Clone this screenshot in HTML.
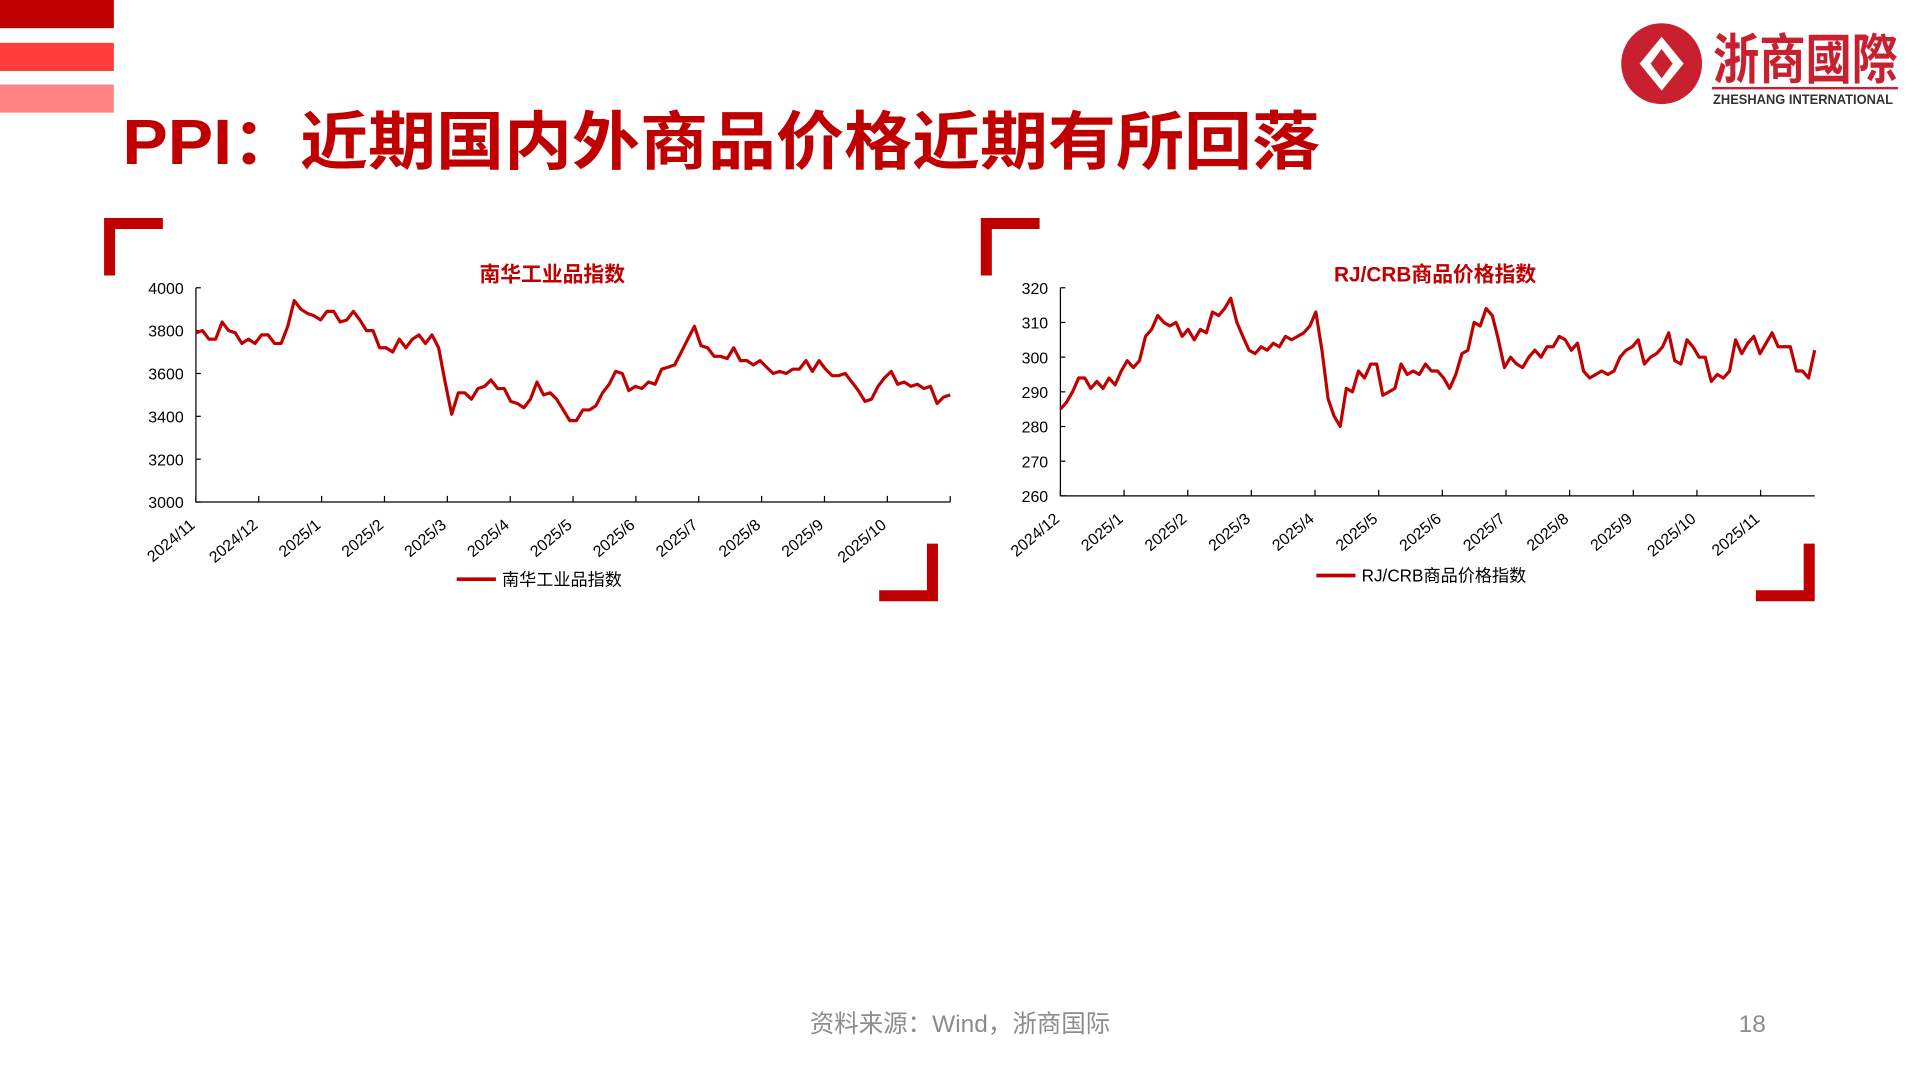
<!DOCTYPE html>
<html><head><meta charset="utf-8"><style>
html,body{margin:0;padding:0;background:#fff;width:1920px;height:1080px;overflow:hidden}
svg{display:block}
text{font-family:"Liberation Sans","Noto Sans CJK SC",sans-serif}
</style></head><body>
<svg id="slide" width="1920" height="1080" viewBox="0 0 1568 882" xmlns="http://www.w3.org/2000/svg">
<rect x="0" y="0" width="93" height="23" fill="#c00000"/>
<rect x="0" y="35" width="93" height="23" fill="#ff3c3c"/>
<rect x="0" y="69" width="93" height="23" fill="#ff8585"/>
<text x="100" y="134" font-size="52" font-weight="bold" fill="#c00000" textLength="978" lengthAdjust="spacingAndGlyphs">PPI：近期国内外商品价格近期有所回落</text>
<g>
<circle cx="1357" cy="52" r="33" fill="#c8202f"/>
<path d="M1357 30 L1375 52 L1357 74 L1339 52 Z" fill="#fff"/>
<path d="M1357 40 L1366 52 L1357 64 L1348 52 Z" fill="#c8202f"/>
<text x="1399" y="64" font-size="44" font-weight="bold" fill="#c8202f" font-family="Noto Serif CJK SC,serif" textLength="151" lengthAdjust="spacingAndGlyphs">浙商國際</text>
<rect x="1398" y="71" width="152" height="2" fill="#c8202f"/>
<text x="1399" y="85" font-size="11" fill="#333" font-family="Liberation Serif,serif" font-weight="bold" textLength="147" lengthAdjust="spacingAndGlyphs">ZHESHANG INTERNATIONAL</text>
</g>
<g fill="#c00000">
<path d="M85 178 H133 V187 H94 V225 H85 Z"/>
<path d="M766 491 H718 V482 H757 V444 H766 Z"/>
<path d="M801 178 H849 V187 H810 V225 H801 Z"/>
<path d="M1482 491 H1434 V482 H1473 V444 H1482 Z"/>
</g>
<g id="chart1"></g>
<g id="chart2"></g>
<text x="784" y="843" font-size="20" text-anchor="middle" fill="#8c8c8c">资料来源：Wind，浙商国际</text>
<text x="1431" y="843" font-size="20" text-anchor="middle" fill="#8c8c8c">18</text>
</svg>
<script>
const nhLabels=["2024/11","2024/12","2025/1","2025/2","2025/3","2025/4","2025/5","2025/6","2025/7","2025/8","2025/9","2025/10"];
const nhTicks=[3000,3200,3400,3600,3800,4000];
const nhValues=[3790,3800,3760,3760,3840,3800,3790,3740,3760,3740,3780,3780,3740,3740,3820,3940,3900,3880,3870,3850,3890,3890,3840,3850,3890,3850,3800,3800,3720,3720,3700,3760,3720,3760,3780,3740,3780,3720,3560,3410,3510,3510,3480,3530,3540,3570,3530,3530,3470,3460,3440,3480,3560,3500,3510,3480,3430,3380,3380,3430,3430,3450,3510,3550,3610,3600,3520,3540,3530,3560,3550,3620,3630,3640,3700,3760,3820,3730,3720,3680,3680,3670,3720,3660,3660,3640,3660,3630,3600,3610,3600,3620,3620,3660,3610,3660,3620,3590,3590,3600,3560,3520,3470,3480,3540,3580,3610,3550,3560,3540,3550,3530,3540,3460,3490,3500];
const rjLabels=["2024/12","2025/1","2025/2","2025/3","2025/4","2025/5","2025/6","2025/7","2025/8","2025/9","2025/10","2025/11"];
const rjTicks=[260,270,280,290,300,310,320];
const rjValues=[285,287,290,294,294,291,293,291,294,292,296,299,297,299,306,308,312,310,309,310,306,308,305,308,307,313,312,314,317,310,306,302,301,303,302,304,303,306,305,306,307,309,313,302,288,283,280,291,290,296,294,298,298,289,290,291,298,295,296,295,298,296,296,294,291,295,301,302,310,309,314,312,305,297,300,298,297,300,302,300,303,303,306,305,302,304,296,294,295,296,295,296,300,302,303,305,298,300,301,303,307,299,298,305,303,300,300,293,295,294,296,305,301,304,306,301,304,307,303,303,303,296,296,294,302];
const NS="http://www.w3.org/2000/svg";
function mk(p,tag,attrs,txt){const e=document.createElementNS(NS,tag);for(const k in attrs)e.setAttribute(k,attrs[k]);if(txt!==undefined)e.textContent=txt;p.appendChild(e);return e;}
function draw(gid,o){
 const g=document.getElementById(gid);
 const x0=o.x0,x1=o.x1,yb=o.yb,yt=o.yt,min=o.ticks[0],max=o.ticks[o.ticks.length-1];
 const ys=v=>yb-(v-min)/(max-min)*(yb-yt);
 const xs=i=>x0+i/(o.values.length-1)*(x1-x0);
 const t=mk(g,'text',{x:o.tx,y:230,'font-size':17,'font-weight':'bold',fill:'#c00000','text-anchor':'middle'},o.title);
 
 
 const ax=mk(g,'path',{d:`M${x0} ${yt} V${yb} H${x1}`,stroke:'#000',fill:'none','stroke-width':1});
 
 
 o.ticks.forEach(v=>{
  mk(g,'line',{x1:x0,x2:x0+4,y1:ys(v),y2:ys(v),stroke:'#000'});
  const l=mk(g,'text',{x:x0-10,y:ys(v)+5,'font-size':13,'text-anchor':'end',fill:'#000'},v);
  
  
 });
 const step=(x1-x0)/o.span;
 for(let k=0;k<=o.span;k++){const x=x0+k*step;if(x>x1+0.5)break;mk(g,'line',{x1:x,x2:x,y1:yb,y2:yb-5,stroke:'#000'});}
 o.labels.forEach((s,k)=>{
  const x=x0+k*step+o.lo;
  const l=mk(g,'text',{x:x,y:yb+20,'font-size':13,'text-anchor':'end',fill:'#000',transform:`rotate(-40 ${x} ${yb+20})`},s);
  
  
 });
 const d=o.values.map((v,i)=>(i?'L':'M')+xs(i).toFixed(1)+' '+ys(v).toFixed(1)).join(' ');
 const ln=mk(g,'path',{d:d,stroke:'#c00000','stroke-width':2.6,fill:'none','stroke-linejoin':'round'});
 
 
 const lg=mk(g,'g',{});
 
 
 mk(lg,'line',{x1:o.lx,x2:o.lx+32,y1:o.ly,y2:o.ly,stroke:'#c00000','stroke-width':3});
 mk(lg,'text',{x:o.lx+37,y:o.ly+5,'font-size':14,fill:'#000'},o.title);
}
draw('chart1',{x0:160,x1:776,yb:410,yt:235,ticks:nhTicks,values:nhValues,labels:nhLabels,span:12,lo:0,title:'南华工业品指数',tx:451,lx:373,ly:473});
draw('chart2',{x0:866,x1:1482,yb:405,yt:235,ticks:rjTicks,values:rjValues,labels:rjLabels,span:11.85,lo:0,title:'RJ/CRB商品价格指数',tx:1172,lx:1075,ly:470});
</script>
</body></html>
